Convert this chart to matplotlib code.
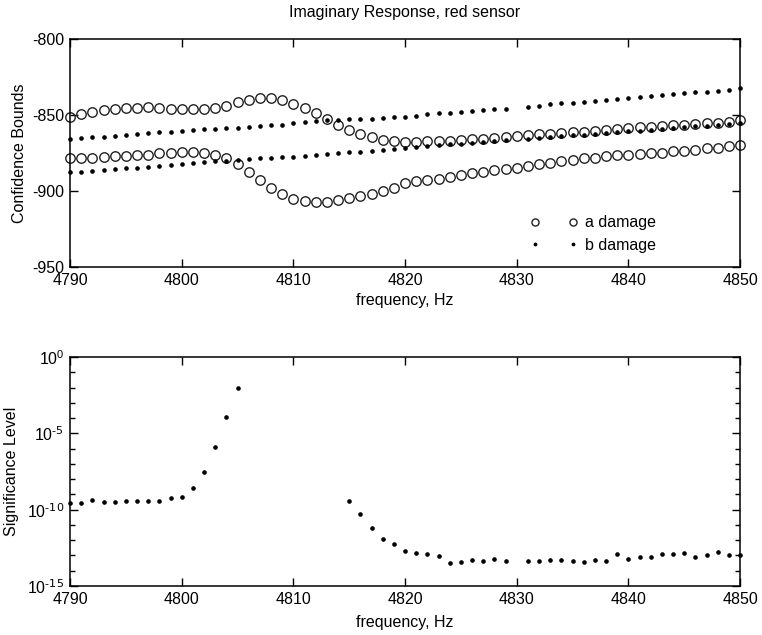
import numpy as np
import matplotlib
matplotlib.use("Agg")
import matplotlib.pyplot as plt
from matplotlib.ticker import FixedLocator, NullFormatter, FuncFormatter

plt.rcParams['font.family'] = ['Liberation Sans', 'DejaVu Sans']
plt.rcParams['axes.unicode_minus'] = False
plt.rcParams['mathtext.default'] = 'regular'

nan = np.nan
freq = np.arange(4790, 4851)  # 1 Hz grid

# confidence bounds, "a damage" (circles)
a_upper = [-851.1, -849.6, -847.8, -846.7, -846.0, -845.6, -845.2, -844.9, -845.4, -845.8,
           -846.0, -846.3, -846.0, -845.2, -843.8, -841.6, -840.1, -839.0, -839.0, -840.1,
           -842.7, -845.6, -848.9, -852.7, -856.6, -859.9, -862.8, -864.8, -866.5, -867.2,
           -867.6, -867.6, -867.2, -867.2, -867.0, -866.5, -866.1, -865.6, -865.0, -864.5,
           -863.9, -863.2, -862.8, -862.3, -861.9, -861.5, -861.0, -860.6, -859.9, -859.5,
           -858.8, -858.2, -857.7, -857.3, -856.8, -856.4, -856.0, -855.5, -855.1, -854.6,
           -853.3]
a_lower = [-878.4, -878.0, -878.0, -877.5, -877.3, -877.1, -876.4, -876.0, -875.3, -874.9,
           -874.2, -874.2, -874.7, -876.4, -878.6, -882.4, -887.2, -892.7, -897.8, -902.2,
           -905.1, -906.6, -907.0, -907.0, -906.2, -904.8, -903.3, -901.8, -900.0, -898.2,
           -894.5, -893.4, -892.7, -891.8, -890.5, -889.4, -888.3, -887.2, -886.3, -885.7,
           -884.6, -883.5, -882.4, -881.3, -880.2, -879.5, -878.6, -878.0, -877.3, -876.6,
           -876.2, -875.8, -875.1, -874.7, -874.0, -873.6, -872.9, -872.0, -871.4, -870.7,
           -869.6]

# confidence bounds, "b damage" (dots)
b_upper = [-865.8, -865.3, -864.7, -864.2, -863.6, -863.2, -862.5, -861.6, -861.4, -861.0,
           -860.5, -860.1, -859.4, -859.2, -858.8, -858.3, -857.7, -857.2, -856.8, -856.6,
           -855.5, -854.8, -853.9, -853.3, -853.3, -852.6, -852.6, -852.6, -852.2, -851.5,
           -851.1, -850.4, -849.6, -848.9, -848.9, -848.2, -847.4, -846.7, -846.1, -846.1,
           nan, -844.5, -843.9, -843.0, -842.3, -841.9, -841.7, -840.8, -840.1, -839.5,
           -838.6, -837.9, -837.5, -836.8, -836.4, -835.7, -835.1, -834.6, -834.0, -833.6,
           -832.4]
b_lower = [-887.7, -887.3, -886.8, -886.2, -885.5, -885.1, -884.6, -884.0, -883.6, -882.9,
           -882.2, -881.8, -881.1, -880.3, -880.0, -879.6, -879.2, -878.5, -878.1, -877.8,
           -877.4, -876.8, -876.3, -875.7, -875.2, -874.5, -874.1, -873.5, -873.0, -872.4,
           -871.5, -870.9, -870.4, -869.8, -869.3, -868.8, -868.2, -867.7, -867.2, -866.6,
           nan, -865.5, -865.0, -864.5, -863.9, -863.4, -862.9, -862.3, -861.8, -861.3,
           -860.7, -860.2, -859.7, -859.1, -858.6, -858.1, -857.5, -857.0, -856.5, -856.0,
           -855.4]

# log10 of significance level
log_sig = [-9.58, -9.59, -9.35, -9.48, -9.52, -9.42, -9.46, -9.42, -9.44, -9.26,
           -9.20, -8.58, -7.51, -5.89, -3.96, -2.01, nan, nan, nan, nan,
           nan, nan, nan, nan, nan, -9.42, -10.27, -11.19, -11.93, -12.22,
           -12.72, -12.85, -12.90, -13.05, -13.47, -13.42, -13.29, -13.36, -13.23, -13.36,
           nan, -13.34, -13.38, -13.29, -13.31, -13.34, -13.42, -13.29, -13.34, -12.92,
           -13.20, -13.09, -13.09, -12.88, -12.88, -12.85, -13.09, -12.98, -12.77, -12.94,
           -12.96]

FS = 11.5
fig = plt.figure(figsize=(7.62, 6.35), dpi=100)
ax1 = fig.add_axes([0.0919, 0.5795, 0.8793, 0.3591])
ax2 = fig.add_axes([0.0919, 0.0772, 0.8793, 0.3606])

circ = dict(ls='none', marker='o', ms=6.8, mfc='none', mec='#222222', mew=1.0, clip_on=False)
dot = dict(ls='none', marker='o', ms=2.3, mfc='black', mec='black', clip_on=False)

ax1.plot(freq, a_upper, label='a damage', **circ)
ax1.plot(freq, a_lower, **circ)
ax1.plot(freq, b_upper, label='b damage', **dot)
ax1.plot(freq, b_lower, **dot)
ax1.set_xlim(4790, 4850)
ax1.set_ylim(-950, -800)
ax1.set_yticks([-950, -900, -850, -800])
ax1.set_xticks(np.arange(4790, 4851, 10))
ax1.set_title('Imaginary Response, red sensor', fontsize=FS, pad=16)
ax1.set_xlabel('frequency, Hz', fontsize=FS, labelpad=4)
ax1.set_ylabel('Confidence Bounds', fontsize=FS, labelpad=4)
leg = ax1.legend(numpoints=2, frameon=False, loc='lower left',
                 bbox_to_anchor=(0.665, 0.0), fontsize=FS, handlelength=3.0,
                 handletextpad=0.45, labelspacing=0.45, markerscale=0.75)


def log_label(v, pos):
    k = int(round(np.log10(v)))
    if k == 0:
        return r'$10^{0}$'
    return r'$10^{\text{-%d}}$' % (-k)


ax2.plot(freq, 10.0 ** np.array(log_sig), **dot)
ax2.set_yscale('log')
ax2.set_xlim(4790, 4850)
ax2.set_ylim(1e-15, 1e0)
ax2.yaxis.set_major_locator(FixedLocator([1e-15, 1e-10, 1e-5, 1e0]))
ax2.yaxis.set_major_formatter(FuncFormatter(log_label))
ax2.yaxis.set_minor_locator(FixedLocator([10.0 ** k for k in range(-15, 1)]))
ax2.yaxis.set_minor_formatter(NullFormatter())
ax2.set_xticks(np.arange(4790, 4851, 10))
ax2.set_xlabel('frequency, Hz', fontsize=FS, labelpad=6)
ax2.set_ylabel('Significance Level', fontsize=FS, labelpad=6)

for ax in (ax1, ax2):
    for s in ax.spines.values():
        s.set_linewidth(1.1)
    ax.tick_params(which='both', direction='in', top=True, right=True,
                   labelsize=FS, width=1.0)
    ax.tick_params(which='major', length=6, pad=4)
    ax.tick_params(which='minor', length=3.5)

fig.savefig('out.png', dpi=100)
